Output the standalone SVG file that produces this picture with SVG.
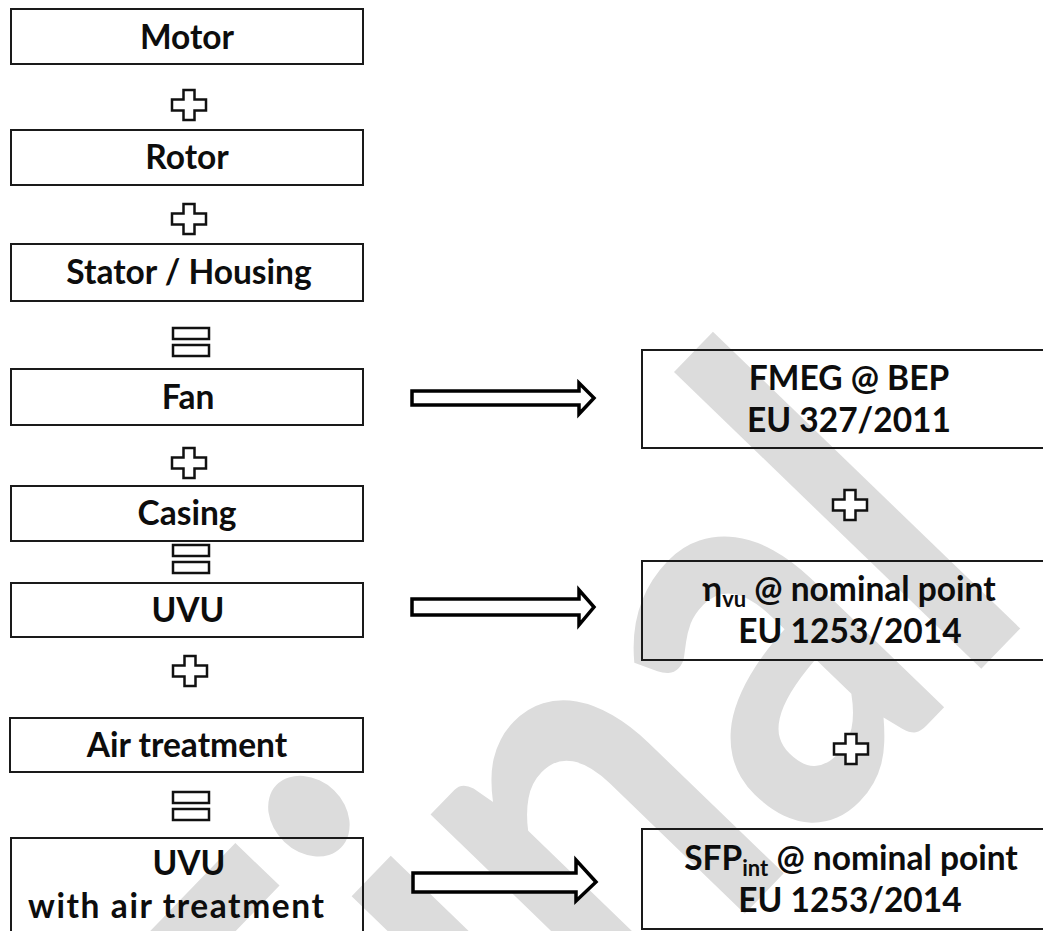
<svg xmlns="http://www.w3.org/2000/svg" width="1043" height="931" viewBox="0 0 1043 931">
<style>
.box{fill:none;stroke:#1a1a1a;stroke-width:2}
.t{font-family:Lato,"Noto Sans","DejaVu Sans",sans-serif;font-weight:bold;font-size:33.5px;fill:#0d0d0d;text-anchor:middle}
.sub{font-size:22px}
.sym{fill:#fff;stroke:#111;stroke-width:2.5;stroke-linejoin:miter}
.arr{fill:#fff;stroke:#000;stroke-width:3.5;stroke-linejoin:miter}
.wm{font-family:Lato,"Noto Sans",sans-serif;font-weight:bold;font-size:575px;fill:#dcdcdc}
</style>
<defs>
<path id="plus" class="sym" d="M-5.5,-15H5.5V-5.5H17V5.5H5.5V15H-5.5V5.5H-17V-5.5H-5.5Z"/>
<g id="eq"><rect class="sym" x="0" y="0" width="36" height="11" stroke-width="2"/><rect class="sym" x="0" y="17" width="36" height="11" stroke-width="2"/></g>
</defs>
<rect width="1043" height="931" fill="#fff"/>
<g id="watermark"><text class="wm" transform="translate(365,1307) rotate(-46) scale(0.79,1)">Final</text></g>

<g id="n-motor"><rect class="box" x="11" y="9" width="352" height="55"/><text class="t" x="187" y="48.5">Motor</text></g>
<g id="n-rotor"><rect class="box" x="11" y="130" width="352" height="55"/><text class="t" x="187" y="169">Rotor</text></g>
<g id="n-stator"><rect class="box" x="11" y="244" width="352" height="57"/><text class="t" x="189" y="284">Stator / Housing</text></g>
<g id="n-fan"><rect class="box" x="11" y="369" width="352" height="56"/><text class="t" x="188" y="409">Fan</text></g>
<g id="n-casing"><rect class="box" x="11" y="486" width="352" height="55"/><text class="t" x="187" y="525">Casing</text></g>
<g id="n-uvu"><rect class="box" x="11" y="583" width="352" height="54"/><text class="t" x="188" y="622">UVU</text></g>
<g id="n-air"><rect class="box" x="10" y="718" width="353" height="54"/><text class="t" x="187" y="757">Air treatment</text></g>
<g id="n-uvuair"><rect class="box" x="11" y="838" width="352" height="110"/><text class="t" x="189" y="875">UVU</text><text class="t" x="176" y="918" textLength="296" lengthAdjust="spacing">with air treatment</text></g>

<g id="n-fmeg"><rect class="box" x="642" y="350" width="420" height="98"/><text class="t" x="849" y="390">FMEG @ BEP</text><text class="t" x="849" y="432">EU 327/2011</text></g>
<g id="n-eta"><rect class="box" x="642" y="561" width="420" height="99"/><text class="t" x="849" y="601">η<tspan class="sub" dy="6">vu</tspan><tspan dy="-6"> @ nominal point</tspan></text><text class="t" x="850" y="643">EU 1253/2014</text></g>
<g id="n-sfp"><rect class="box" x="642" y="829" width="420" height="100"/><text class="t" x="851" y="870">SFP<tspan class="sub" dy="6">int</tspan><tspan dy="-6"> @ nominal point</tspan></text><text class="t" x="850" y="912">EU 1253/2014</text></g>

<g id="operators">
<use href="#plus" x="189" y="105"/>
<use href="#plus" x="189" y="219"/>
<use href="#plus" x="189" y="463"/>
<use href="#plus" x="190" y="671"/>
<use href="#plus" x="850" y="505"/>
<use href="#plus" x="851" y="749"/>
<use href="#eq" x="173" y="328"/>
<use href="#eq" x="173" y="545"/>
<use href="#eq" x="173" y="792"/>
</g>

<g id="connectors">
<polygon class="arr" points="412,391 579,391 579,383 594,398 579,414 579,405 412,405"/>
<polygon class="arr" points="412,599 579,599 579,590 594,607 579,625 579,615 412,615"/>
<polygon class="arr" points="413,873 576,873 576,860 596,882 576,901 576,892 413,892"/>
</g>
</svg>
